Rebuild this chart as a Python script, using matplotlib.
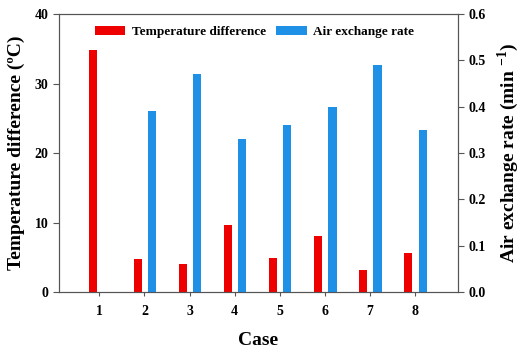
import numpy as np
import matplotlib.pyplot as plt

plt.rcParams['font.family'] = 'Liberation Serif'
plt.rcParams['font.weight'] = 'bold'
plt.rcParams['mathtext.fontset'] = 'custom'
plt.rcParams['mathtext.rm'] = 'Liberation Serif'
plt.rcParams['mathtext.bf'] = 'Liberation Serif:bold'

cases = [1, 2, 3, 4, 5, 6, 7, 8]
temp_diff = [34.8, 4.7, 4.0, 9.6, 4.9, 8.1, 3.2, 5.7]
air_cases = [2, 3, 4, 5, 6, 7, 8]
air_rate = [0.39, 0.47, 0.33, 0.36, 0.40, 0.49, 0.35]

red = '#ee0000'
blue = '#1e90e6'
spine_col = '#555555'

fig = plt.figure(figsize=(5.25, 3.62), dpi=100)
ax = fig.add_axes([0.112, 0.193, 0.76, 0.768])
ax2 = ax.twinx()

w = 0.18
b1 = ax.bar(np.array(cases) - 0.15, temp_diff, width=w, color=red, label='Temperature difference')
b2 = ax2.bar(np.array(air_cases) + 0.17, air_rate, width=w, color=blue, label='Air exchange rate')

ax.set_xlim(0.1, 8.95)
ax.set_ylim(0, 40)
ax2.set_ylim(0, 0.6)
ax.set_xticks(cases)
ax.set_yticks([0, 10, 20, 30, 40])
ax2.set_yticks([0.0, 0.1, 0.2, 0.3, 0.4, 0.5, 0.6])
ax2.set_yticklabels(['%.1f' % v for v in [0.0, 0.1, 0.2, 0.3, 0.4, 0.5, 0.6]])

for a in (ax, ax2):
    for s in a.spines.values():
        s.set_color(spine_col)
        s.set_linewidth(0.8)
    a.tick_params(colors='black', labelsize=10, width=0.8, length=4)
    for lab in a.get_xticklabels() + a.get_yticklabels():
        lab.set_fontweight('bold')
ax.tick_params(axis='x', length=3, pad=6, color=spine_col)
ax.tick_params(axis='y', color=spine_col)
ax2.tick_params(axis='y', color=spine_col)

ax.set_xlabel('Case', fontsize=14, fontweight='bold', labelpad=10)
ax.set_ylabel('Temperature difference (ºC)', fontsize=14, fontweight='bold', labelpad=7)
ax2.set_ylabel('Air exchange rate (min $^{\\mathbf{-1}}$)', fontsize=14, fontweight='bold', labelpad=7)

ax.legend([b1, b2], ['Temperature difference', 'Air exchange rate'], loc='upper left',
          bbox_to_anchor=(0.06, 1.0), ncol=2, frameon=False,
          prop={'family': 'Liberation Serif', 'weight': 'bold', 'size': 9.5},
          handlelength=2.3, handleheight=0.6, handletextpad=0.5, columnspacing=0.8)

fig.savefig('out.png', dpi=100)
